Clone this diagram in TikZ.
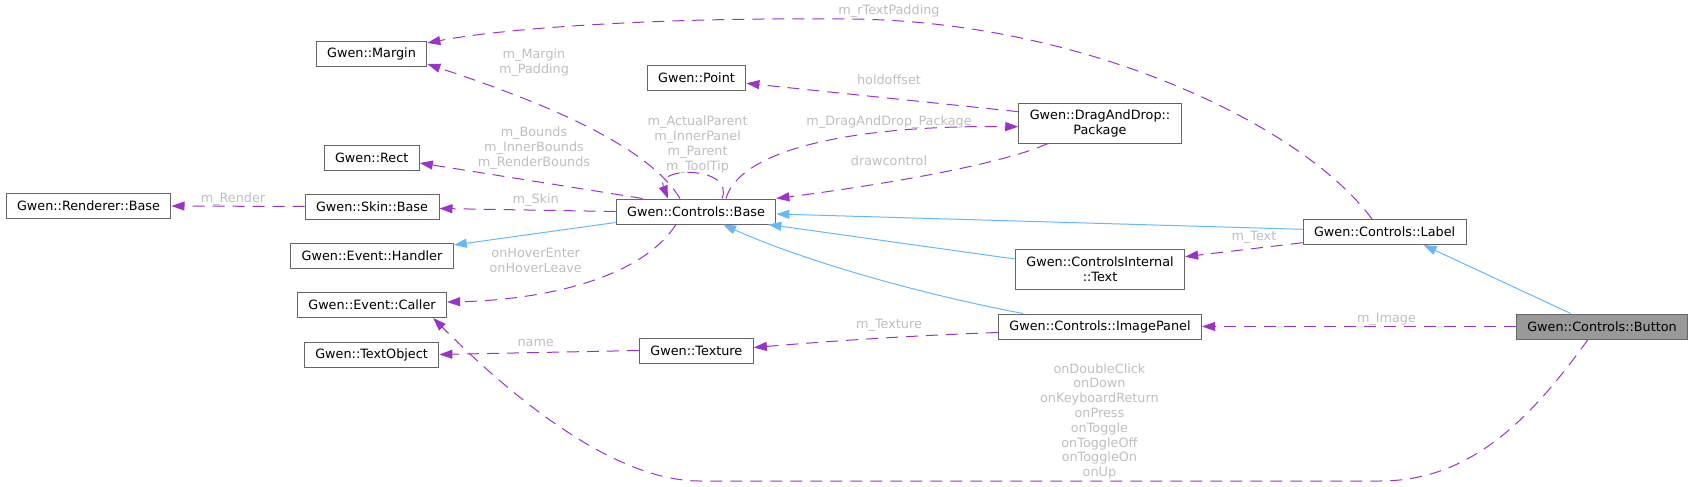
\documentclass[tikz,border=0pt]{standalone}
\usepackage{fontspec}
\setmainfont{DejaVu Sans}
\usepackage{tikz}
\usetikzlibrary{arrows.meta}

\definecolor{dependcol}{HTML}{9A32CD}
\definecolor{inheritcol}{HTML}{63B8FF}
\definecolor{boxcol}{HTML}{666666}
\definecolor{focuscol}{HTML}{999999}
\definecolor{edgetext}{HTML}{BEBEBE}

\begin{document}
\begin{tikzpicture}[
        x=0.5pt, y=-0.5pt,
        font=\fontsize{6.4pt}{7.5pt}\selectfont,
        cls/.style={draw=boxcol, fill=white, line width=0.5pt, inner xsep=5.5pt, inner ysep=0pt,
            minimum height=12.5pt, align=center},
        twoline/.style={cls, minimum height=20pt},
        focus/.style={cls, fill=focuscol},
        uses/.style={draw=dependcol, line width=0.5pt, dash pattern=on 6pt off 4pt,
            -{Triangle[length=6.5pt, width=4.5pt, fill=dependcol]}},
        isa/.style={draw=inheritcol, line width=0.5pt,
            -{Triangle[length=6.5pt, width=4.5pt, fill=inheritcol]}},
        elabel/.style={text=edgetext, align=center, inner sep=0pt,
            font=\fontsize{6.4pt}{7.4pt}\selectfont}
    ]
    \useasboundingbox (0,0) rectangle (1693,487);

    % --- Classes ---
    \node[cls] (renderer) at (88.5,206) {Gwen::Renderer::Base};
    \node[cls] (margin) at (371.5,53.5) {Gwen::Margin};
    \node[cls] (rect) at (371.7,157.5) {Gwen::Rect};
    \node[cls] (skin) at (372,206.5) {Gwen::Skin::Base};
    \node[cls] (handler) at (372,256) {Gwen::Event::Handler};
    \node[cls] (caller) at (372,305) {Gwen::Event::Caller};
    \node[cls] (textobj) at (371.6,354.5) {Gwen::TextObject};
    \node[cls] (point) at (696.5,78) {Gwen::Point};
    \node[cls] (cbase) at (696,211.5) {Gwen::Controls::Base};
    \node[cls] (texture) at (696.4,350.5) {Gwen::Texture};
    \node[twoline] (package) at (1100,123) {Gwen::DragAndDrop::\\Package};
    \node[twoline] (citext) at (1100,269) {Gwen::ControlsInternal\\::Text};
    \node[cls] (imgpanel) at (1100,326.5) {Gwen::Controls::ImagePanel};
    \node[cls] (label) at (1384.6,232) {Gwen::Controls::Label};
    \node[focus] (button) at (1602,326.5) {Gwen::Controls::Button};

    % --- Inheritance ---
    \draw[isa] ([yshift=1pt]cbase.south west) -- ([yshift=5.5pt]handler.east);
    \draw[isa] ([xshift=-38.5pt]imgpanel.north) .. controls (900,290) and (790,255) .. ([xshift=13.5pt]cbase.south);
    \draw[isa] ([yshift=5pt]citext.west) -- ([xshift=-4pt]cbase.south east);
    \draw[isa] ([yshift=1.35pt]label.west) -- ([yshift=-1.25pt]cbase.east);
    \draw[isa] ([xshift=-15.65pt]button.north) -- ([xshift=19.5pt]label.south);

    % --- Usage ---
    \draw[uses] ([xshift=-6.3pt]label.north) .. controls (1300,122) and (1080,21) .. (850,19)
        .. controls (650,17) and (500,29) .. ([yshift=5.25pt]margin.east);
    \draw[uses] ([xshift=-8pt]cbase.north) .. controls (645,140) and (520,95) .. ([yshift=-5.25pt]margin.east);
    \draw[uses] ([xshift=13.5pt]cbase.north west) -- ([yshift=-2.75pt]rect.east);
    \draw[uses] (cbase.west) -- ([yshift=-1pt]skin.east);
    \draw[uses] (skin.west) -- (renderer.east);
    \draw[uses] ([xshift=-10pt]cbase.south) .. controls (640,280) and (540,300) .. ([yshift=1.5pt]caller.east);
    \draw[uses] ([xshift=-7pt]button.south) .. controls (1530,420) and (1470,481) .. (1380,481)
        -- (700,481) .. controls (610,481) and (505,390) .. ([xshift=-7pt]caller.south east);
    \draw[uses] (texture.west) -- (textobj.east);
    \draw[uses] ([yshift=-3pt]imgpanel.west) .. controls (900,336) and (820,342) .. ([yshift=1.5pt]texture.east);
    \draw[uses] ([yshift=-5.35pt]label.west) -- ([yshift=6.15pt]citext.east);
    \draw[uses] (button.west) -- (imgpanel.east);
    \draw[uses] ([yshift=5.65pt]package.west) -- ([yshift=-2.65pt]point.east);
    \draw[uses] ([xshift=15pt]cbase.north) .. controls (740,150) and (850,125) .. ([yshift=-1.85pt]package.west);
    \draw[uses] ([xshift=-26pt]package.south) .. controls (1000,165) and (880,185) .. (cbase.north east);
    \draw[uses] ([xshift=13pt]cbase.north) .. controls (735,166) and (655,166) .. ([xshift=-14pt]cbase.north);

    % --- Edge labels ---
    \node[elabel] (lrtext) at (889,11) {m\_rTextPadding};
    \node[elabel] (lmargin) at (534,63) {m\_Margin\\m\_Padding};
    \node[elabel] (lbounds) at (534,148) {m\_Bounds\\m\_InnerBounds\\m\_RenderBounds};
    \node[elabel] (lskin) at (535.7,200) {m\_Skin};
    \node[elabel] (lrender) at (233,198.7) {m\_Render};
    \node[elabel] (lhover) at (535.7,260.5) {onHoverEnter\\onHoverLeave};
    \node[elabel] (lname) at (535.7,342.7) {name};
    \node[elabel] (ltexture) at (889,325) {m\_Texture};
    \node[elabel] (levents) at (1099.4,421.3) {onDoubleClick\\onDown\\onKeyboardReturn\\onPress\\onToggle\\onToggleOff\\onToggleOn\\onUp};
    \node[elabel] (ltext) at (1253.9,237) {m\_Text};
    \node[elabel] (limage) at (1386.5,319) {m\_Image};
    \node[elabel] (lhold) at (889,80) {holdoffset};
    \node[elabel] (ldnd) at (889,122.3) {m\_DragAndDrop\_Package};
    \node[elabel] (ldraw) at (889,160.7) {drawcontrol};
    \node[elabel] (lloop) at (697.6,144.7) {m\_ActualParent\\m\_InnerPanel\\m\_Parent\\m\_ToolTip};

\end{tikzpicture}
\end{document}
